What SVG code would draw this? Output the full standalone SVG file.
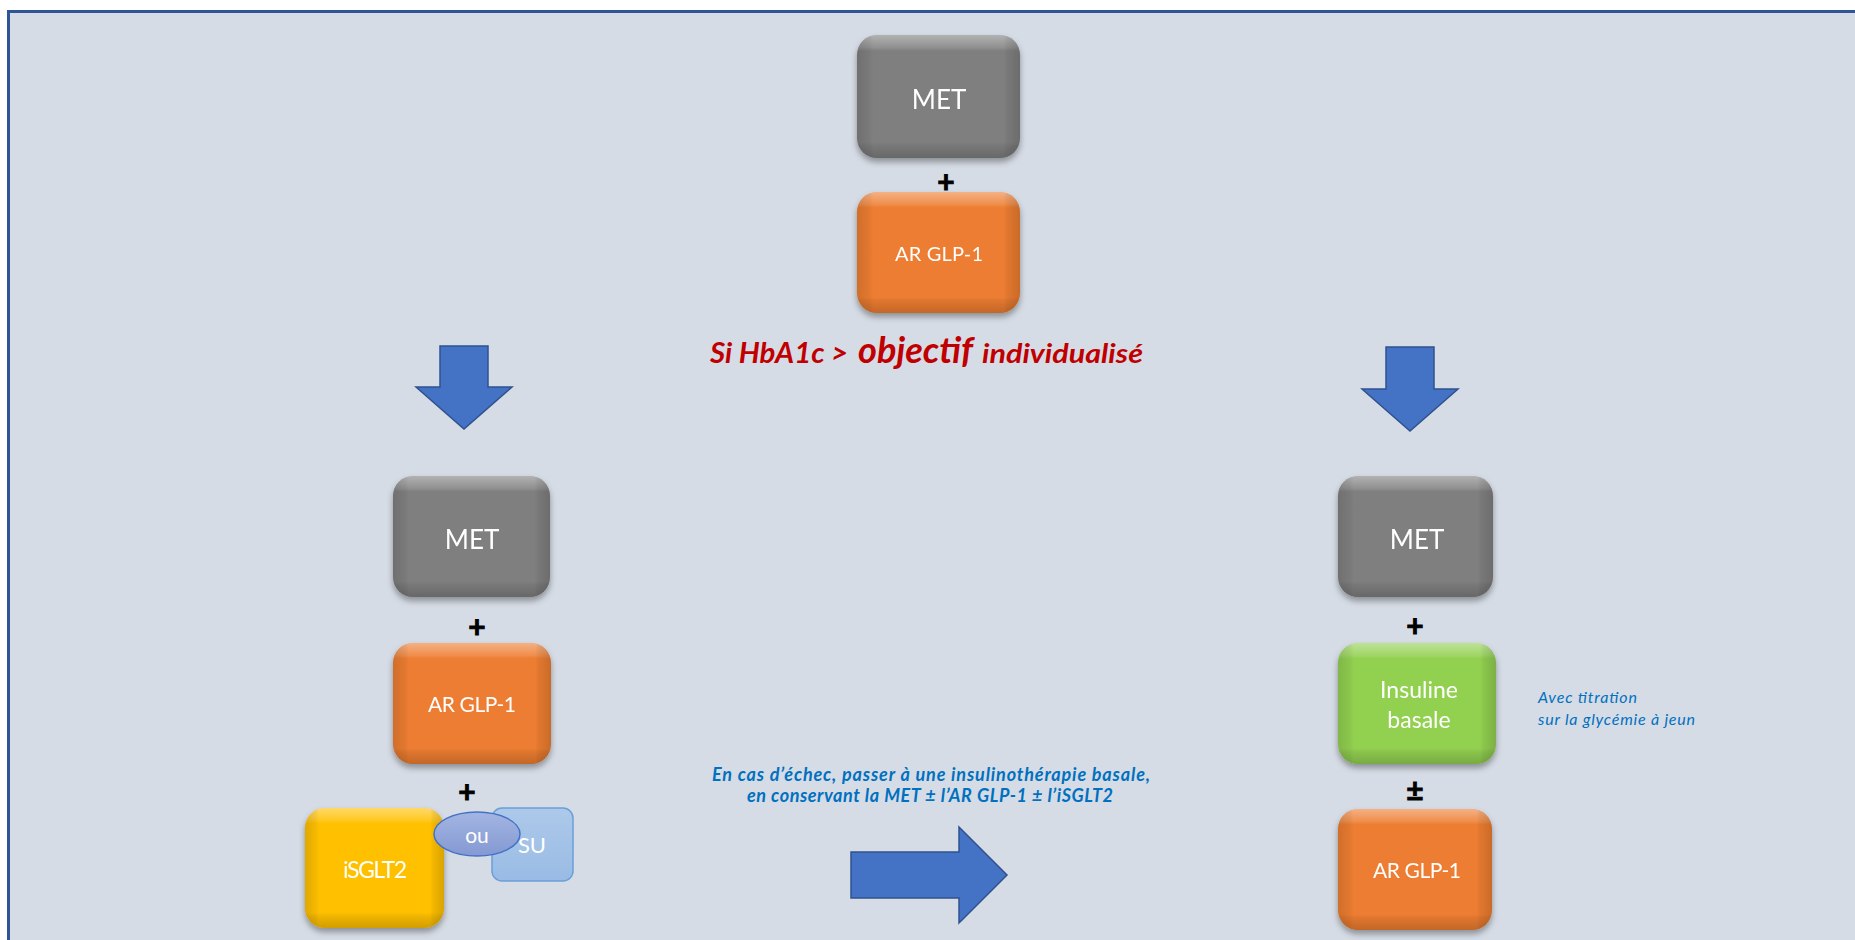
<svg xmlns="http://www.w3.org/2000/svg" width="1855" height="940" viewBox="0 0 1855 940">
  <defs>
    <style>
      .lbl { font-family: Lato, "Open Sans", "Liberation Sans", sans-serif; fill: #ffffff; text-anchor: middle; }
      .op { font-family: Lato, "Liberation Sans", sans-serif; font-weight: 700; font-size: 30px; fill: #000000; stroke: #000000; stroke-width: 0.9; text-anchor: middle; }
      .note { font-family: Lato, "Open Sans", "Liberation Sans", sans-serif; font-style: italic; fill: #0070C0; }
      .red { font-family: Lato, "Open Sans", "Liberation Sans", sans-serif; font-style: italic; font-weight: 700; fill: #C00000; }
      .arrow { fill: #4472C4; stroke: #2F528F; stroke-width: 1.5; }
    </style>
    <!-- soft drop shadow under the bevelled tiles -->
    <filter id="shadow" x="-20%" y="-20%" width="140%" height="150%">
      <feDropShadow dx="0" dy="4" stdDeviation="3" flood-color="#000000" flood-opacity="0.35"/>
    </filter>
    <!-- bevel overlays: lighter top rim, darker bottom and side rims -->
    <linearGradient id="bevelV" x1="0" y1="0" x2="0" y2="1">
      <stop offset="0" stop-color="#ffffff" stop-opacity="0.4"/>
      <stop offset="0.1" stop-color="#ffffff" stop-opacity="0.14"/>
      <stop offset="0.13" stop-color="#ffffff" stop-opacity="0"/>
      <stop offset="0.87" stop-color="#000000" stop-opacity="0"/>
      <stop offset="0.9" stop-color="#000000" stop-opacity="0.06"/>
      <stop offset="1" stop-color="#000000" stop-opacity="0.18"/>
    </linearGradient>
    <linearGradient id="bevelH" x1="0" y1="0" x2="1" y2="0">
      <stop offset="0" stop-color="#000000" stop-opacity="0.12"/>
      <stop offset="0.08" stop-color="#000000" stop-opacity="0.04"/>
      <stop offset="0.1" stop-color="#000000" stop-opacity="0"/>
      <stop offset="0.9" stop-color="#000000" stop-opacity="0"/>
      <stop offset="0.92" stop-color="#000000" stop-opacity="0.05"/>
      <stop offset="1" stop-color="#000000" stop-opacity="0.15"/>
    </linearGradient>
    <linearGradient id="suFill" x1="0" y1="0" x2="0" y2="1">
      <stop offset="0" stop-color="#ADC9EA"/>
      <stop offset="1" stop-color="#99BBE4"/>
    </linearGradient>
    <linearGradient id="ouFill" x1="0" y1="0" x2="0" y2="1">
      <stop offset="0" stop-color="#A3B5E2"/>
      <stop offset="1" stop-color="#8499D3"/>
    </linearGradient>
  </defs>

  <!-- page frame -->
  <rect x="0" y="0" width="1855" height="940" fill="#ffffff"/>
  <rect x="8.5" y="11.5" width="1860" height="940" fill="#D6DCE5" stroke="#2F5597" stroke-width="3"/>

  <!-- top: MET + AR GLP-1 -->
  <g id="met-top" filter="url(#shadow)">
    <rect x="857" y="35" width="163" height="123" rx="20" fill="#7F7F7F"/>
    <rect x="857" y="35" width="163" height="123" rx="20" fill="url(#bevelV)"/>
    <rect x="857" y="35" width="163" height="123" rx="20" fill="url(#bevelH)"/>
    <text class="lbl" x="939" y="109" font-size="26">MET</text>
  </g>
  <g id="glp1-top" filter="url(#shadow)">
    <rect x="857" y="192" width="163" height="121" rx="20" fill="#ED7D31"/>
    <rect x="857" y="192" width="163" height="121" rx="20" fill="url(#bevelV)"/>
    <rect x="857" y="192" width="163" height="121" rx="20" fill="url(#bevelH)"/>
    <text class="lbl" x="939" y="261" font-size="20" textLength="88">AR GLP-1</text>
  </g>

  <!-- condition -->
  <g id="condition">
    <text class="red" x="710" y="363" font-size="29" textLength="138" lengthAdjust="spacingAndGlyphs">Si HbA1c &gt;</text>
    <text class="red" x="858" y="363" font-size="37" textLength="115" lengthAdjust="spacingAndGlyphs">objectif</text>
    <text class="red" x="982" y="363" font-size="27" textLength="161" lengthAdjust="spacingAndGlyphs">individualisé</text>
  </g>

  <!-- left branch -->
  <g id="met-left" filter="url(#shadow)">
    <rect x="393" y="476" width="157" height="121" rx="20" fill="#7F7F7F"/>
    <rect x="393" y="476" width="157" height="121" rx="20" fill="url(#bevelV)"/>
    <rect x="393" y="476" width="157" height="121" rx="20" fill="url(#bevelH)"/>
    <text class="lbl" x="472" y="549" font-size="26">MET</text>
  </g>
  <g id="glp1-left" filter="url(#shadow)">
    <rect x="393" y="643" width="158" height="121" rx="20" fill="#ED7D31"/>
    <rect x="393" y="643" width="158" height="121" rx="20" fill="url(#bevelV)"/>
    <rect x="393" y="643" width="158" height="121" rx="20" fill="url(#bevelH)"/>
    <text class="lbl" x="472" y="712" font-size="21" textLength="88">AR GLP-1</text>
  </g>
  <g id="isglt2" filter="url(#shadow)">
    <rect x="305" y="808" width="139" height="120" rx="20" fill="#FFC000"/>
    <rect x="305" y="808" width="139" height="120" rx="20" fill="url(#bevelV)"/>
    <rect x="305" y="808" width="139" height="120" rx="20" fill="url(#bevelH)"/>
    <text class="lbl" x="375" y="878" font-size="23" textLength="64">iSGLT2</text>
  </g>
  <g id="su">
    <rect x="492" y="808" width="81" height="73" rx="10" fill="url(#suFill)" stroke="#6A9FD8" stroke-width="1.5"/>
    <text class="lbl" x="532" y="853" font-size="22">SU</text>
  </g>
  <g id="ou">
    <ellipse cx="477" cy="834" rx="43" ry="22" fill="url(#ouFill)" stroke="#4472C4" stroke-width="1.5"/>
    <text class="lbl" x="477" y="843" font-size="21">ou</text>
  </g>

  <!-- right branch -->
  <g id="met-right" filter="url(#shadow)">
    <rect x="1338" y="476" width="155" height="121" rx="20" fill="#7F7F7F"/>
    <rect x="1338" y="476" width="155" height="121" rx="20" fill="url(#bevelV)"/>
    <rect x="1338" y="476" width="155" height="121" rx="20" fill="url(#bevelH)"/>
    <text class="lbl" x="1417" y="549" font-size="26">MET</text>
  </g>
  <g id="insuline" filter="url(#shadow)">
    <rect x="1338" y="643" width="158" height="121" rx="20" fill="#92D050"/>
    <rect x="1338" y="643" width="158" height="121" rx="20" fill="url(#bevelV)"/>
    <rect x="1338" y="643" width="158" height="121" rx="20" fill="url(#bevelH)"/>
    <text class="lbl" x="1419" y="698" font-size="23">Insuline</text>
    <text class="lbl" x="1419" y="728" font-size="23">basale</text>
  </g>
  <g id="glp1-right" filter="url(#shadow)">
    <rect x="1338" y="809" width="154" height="121" rx="20" fill="#ED7D31"/>
    <rect x="1338" y="809" width="154" height="121" rx="20" fill="url(#bevelV)"/>
    <rect x="1338" y="809" width="154" height="121" rx="20" fill="url(#bevelH)"/>
    <text class="lbl" x="1417" y="878" font-size="21" textLength="88">AR GLP-1</text>
  </g>

  <!-- notes -->
  <g id="note-titration">
    <text class="note" x="1538" y="703" font-size="16" textLength="99">Avec titration</text>
    <text class="note" x="1538" y="725" font-size="16" textLength="157">sur la glycémie à jeun</text>
  </g>
  <g id="note-echec">
    <text class="note" font-weight="700" x="712" y="781" font-size="18" textLength="438">En cas d’échec, passer à une insulinothérapie basale,</text>
    <text class="note" font-weight="700" x="747" y="802" font-size="18" textLength="366">en conservant la MET ± l’AR GLP-1 ± l’iSGLT2</text>
  </g>

  <!-- combination operators -->
  <g id="operators">
    <text class="op" x="946" y="193">+</text>
    <text class="op" x="477" y="638">+</text>
    <text class="op" x="467" y="803">+</text>
    <text class="op" x="1415" y="637">+</text>
    <text class="op" x="1415" y="801">±</text>
  </g>

  <!-- block arrows -->
  <g id="connectors">
    <polygon class="arrow" points="440,346 488,346 488,387 512,387 464,429 416,387 440,387"/>
    <polygon class="arrow" points="1386,347 1434,347 1434,389 1458,389 1410,431 1362,389 1386,389"/>
    <polygon class="arrow" points="851,852 959,852 959,827 1007,875 959,923 959,898 851,898"/>
  </g>
</svg>
